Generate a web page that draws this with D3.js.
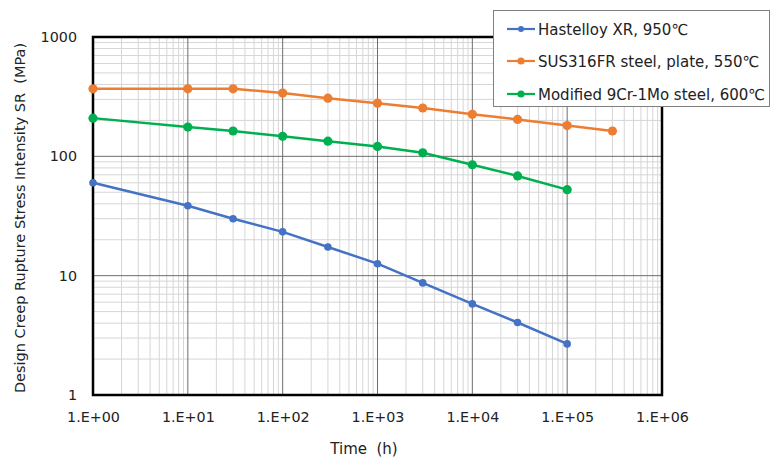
<!DOCTYPE html>
<html>
<head>
<meta charset="utf-8">
<script src="https://cdn.jsdelivr.net/npm/d3@7"></script>
<style>
  body { margin: 0; background: #fff; }
  text { font-family: "DejaVu Sans", Verdana, sans-serif; fill: #222; }
</style>
</head>
<body>
<svg id="chart" width="771" height="457"></svg>
<script>
var hoursA = [1, 10, 30, 100, 300, 1000, 3000, 10000, 30000, 100000]
var hastelloy = [60, 38.5, 30, 23.3, 17.4, 12.6, 8.7, 5.8, 4.05, 2.68]

var hoursB = [1, 10, 30, 100, 300, 1000, 3000, 10000, 30000, 100000, 300000]
var sus316 = [368, 368, 368, 339, 307, 279, 254, 225, 204, 181, 163]

var hoursC = [1, 10, 30, 100, 300, 1000, 3000, 10000, 30000, 100000]
var mod9cr = [209, 176, 163, 147, 134, 121, 107, 85, 68.5, 52.6]

var seriesNames = ["Hastelloy XR, 950\u2103", "SUS316FR steel, plate, 550\u2103", "Modified 9Cr-1Mo steel, 600\u2103"]
var seriesColors = ["#4472C4", "#ED7D31", "#00B050"]

var xTicks = [1, 10, 100, 1000, 10000, 100000, 1000000]
var xTickLabels = ["1.E+00", "1.E+01", "1.E+02", "1.E+03", "1.E+04", "1.E+05", "1.E+06"]
var yTicks = [1, 10, 100, 1000]

var dimensions = {
  width: 771,
  height: 457,
  margin: { top: 37, bottom: 62, left: 93, right: 109 }
}

var svg = d3.select("#chart")

var xScale = d3.scaleLog()
  .domain([1, 1e6])
  .range([dimensions.margin.left, dimensions.width - dimensions.margin.right])

var yScale = d3.scaleLog()
  .domain([1, 1000])
  .range([dimensions.height - dimensions.margin.bottom, dimensions.margin.top])

var x0 = xScale.range()[0], x1 = xScale.range()[1]
var y0 = yScale.range()[0], y1 = yScale.range()[1]

// minor grid values 2..9 in every decade
var xMinor = []
for (var e = 0; e < 6; e++) for (var k = 2; k <= 9; k++) xMinor.push(k * Math.pow(10, e))
var yMinor = []
for (var e = 0; e < 3; e++) for (var k = 2; k <= 9; k++) yMinor.push(k * Math.pow(10, e))

var grid = svg.append("g")
grid.selectAll(".xminor").data(xMinor).enter().append("line")
  .attr("x1", d => xScale(d)).attr("x2", d => xScale(d))
  .attr("y1", y1).attr("y2", y0)
  .attr("stroke", "#d6d6d6").attr("stroke-width", 1)
grid.selectAll(".yminor").data(yMinor).enter().append("line")
  .attr("y1", d => yScale(d)).attr("y2", d => yScale(d))
  .attr("x1", x0).attr("x2", x1)
  .attr("stroke", "#d6d6d6").attr("stroke-width", 1)
grid.selectAll(".xmajor").data(xTicks).enter().append("line")
  .attr("x1", d => xScale(d)).attr("x2", d => xScale(d))
  .attr("y1", y1).attr("y2", y0)
  .attr("stroke", "#6e6e6e").attr("stroke-width", 1)
grid.selectAll(".ymajor").data(yTicks).enter().append("line")
  .attr("y1", d => yScale(d)).attr("y2", d => yScale(d))
  .attr("x1", x0).attr("x2", x1)
  .attr("stroke", "#6e6e6e").attr("stroke-width", 1)

// plot frame
svg.append("rect")
  .attr("x", x0).attr("y", y1)
  .attr("width", x1 - x0).attr("height", y0 - y1)
  .attr("fill", "none").attr("stroke", "#000").attr("stroke-width", 2.5)

// axes (labels only, the frame draws the lines)
var xAxisGen = d3.axisBottom(xScale).tickValues(xTicks)
  .tickFormat((d, i) => xTickLabels[i]).tickSize(0).tickPadding(17)
var xAxis = svg.append("g")
  .attr("transform", `translate(0,${y0})`)
  .call(xAxisGen)
xAxis.select(".domain").remove()
xAxis.selectAll("text").style("font-size", "14.3px").style("font-family", "DejaVu Sans").attr("fill", "#222")

var yAxisGen = d3.axisLeft(yScale).tickValues(yTicks)
  .tickFormat(d3.format("d")).tickSize(0).tickPadding(16)
var yAxis = svg.append("g")
  .attr("transform", `translate(${x0},0)`)
  .call(yAxisGen)
yAxis.select(".domain").remove()
yAxis.selectAll("text").style("font-size", "14.3px").style("font-family", "DejaVu Sans").attr("fill", "#222")

// titles
svg.append("text")
  .attr("x", 364).attr("y", 454)
  .attr("text-anchor", "middle")
  .style("font-size", "15px")
  .text("Time\u00a0 (h)")

svg.append("text")
  .attr("transform", "translate(25,218) rotate(-90)")
  .attr("text-anchor", "middle")
  .style("font-size", "14.5px")
  .text("Design Creep Rupture Stress Intensity SR\u00a0 (MPa)")

// series
var allSeries = [
  { x: hoursA, y: hastelloy, r: 3.8 },
  { x: hoursB, y: sus316, r: 4.6 },
  { x: hoursC, y: mod9cr, r: 4.6 }
]

var line = d3.line()
  .x(d => xScale(d[0]))
  .y(d => yScale(d[1]))

allSeries.forEach(function (s, i) {
  var pts = s.x.map((h, j) => [h, s.y[j]])
  svg.append("path")
    .datum(pts)
    .attr("d", line)
    .attr("fill", "none")
    .attr("stroke", seriesColors[i])
    .attr("stroke-width", 2.5)
  svg.append("g").selectAll("circle")
    .data(pts)
    .enter().append("circle")
    .attr("cx", d => xScale(d[0]))
    .attr("cy", d => yScale(d[1]))
    .attr("r", s.r)
    .attr("fill", seriesColors[i])
})

// legend
var legend = svg.append("g")
legend.append("rect")
  .attr("x", 493.5).attr("y", 10.5)
  .attr("width", 276).attr("height", 96)
  .attr("fill", "#fff").attr("stroke", "#7f7f7f").attr("stroke-width", 1)

var rowY = [29, 61, 94]
var legendR = [3, 3.6, 3.6]
seriesNames.forEach(function (name, i) {
  var g = legend.append("g").attr("transform", `translate(0,${rowY[i]})`)
  g.append("line")
    .attr("x1", 507).attr("x2", 535)
    .attr("stroke", seriesColors[i]).attr("stroke-width", 2.2)
  g.append("circle")
    .attr("cx", 521).attr("r", legendR[i])
    .attr("fill", seriesColors[i])
  g.append("text")
    .attr("x", 538).attr("y", 5.5)
    .style("font-size", "15px")
    .text(name)
})
</script>
</body>
</html>
